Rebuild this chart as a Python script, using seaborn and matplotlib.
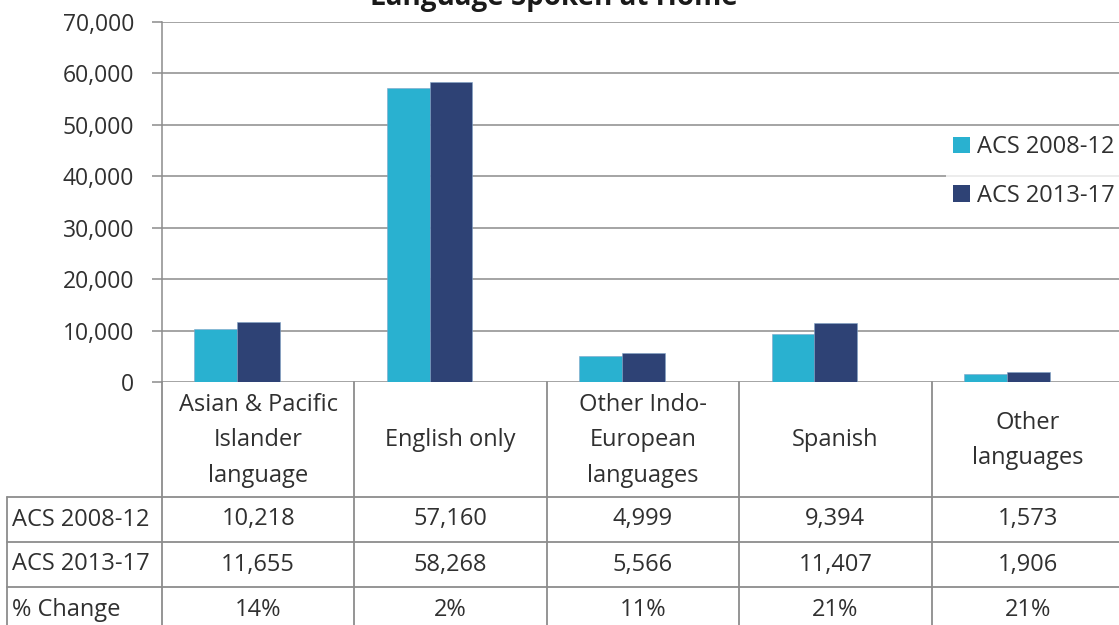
import matplotlib
matplotlib.use("Agg")
import matplotlib.pyplot as plt
import seaborn as sns
import pandas as pd
from matplotlib.patches import Patch

categories = [
    "Asian & Pacific\nIslander\nlanguage",
    "English only",
    "Other Indo-\nEuropean\nlanguages",
    "Spanish",
    "Other\nlanguages",
]
series_names = ["ACS 2008-12", "ACS 2013-17"]
acs_2008_12 = [10218, 57160, 4999, 9394, 1573]
acs_2013_17 = [11655, 58268, 5566, 11407, 1906]
pct_change = [14, 2, 11, 21, 21]
y_ticks = [0, 10000, 20000, 30000, 40000, 50000, 60000, 70000]

colors = ["#29B1D0", "#2E4275"]
grid_c = "#8C8C8C"
text_c = "#303030"

sns.set_theme(style="white")
plt.rcParams["font.family"] = ["Open Sans", "DejaVu Sans"]

W, H = 1119, 625
fig = plt.figure(figsize=(W / 100, H / 100), dpi=100)

# pixel geometry of the plot area
x_left, x_right = 162, 1124
y_top, y_zero = 22, 382
cat_w = (x_right - x_left) / 5
bar_shift = 21 / cat_w  # bar groups sit slightly left of the table columns

ax = fig.add_axes([x_left / W, 1 - y_zero / H, (x_right - x_left) / W, (y_zero - y_top) / H])

df = pd.DataFrame({
    "category": categories * 2,
    "series": [series_names[0]] * 5 + [series_names[1]] * 5,
    "value": acs_2008_12 + acs_2013_17,
})
sns.barplot(data=df, x="category", y="value", hue="series", palette=colors,
            width=0.445, saturation=1, ax=ax, legend=False,
            edgecolor="#7fa3c7", linewidth=0.4)

ax.set_xlim(-0.5 + bar_shift, 4.5 + bar_shift)
ax.set_ylim(0, 70000)
ax.set_yticks(y_ticks)
ax.set_yticklabels([f"{v:,}" for v in y_ticks], fontsize=16.5, color=text_c)
ax.set_xticks([])
ax.set_xlabel("")
ax.set_ylabel("")
for v in y_ticks:
    ax.axhline(v, color=grid_c, lw=1.1, zorder=0)
for s in ["top", "right", "bottom"]:
    ax.spines[s].set_visible(False)
ax.spines["left"].set_color(grid_c)
ax.spines["left"].set_linewidth(1.1)
ax.tick_params(axis="y", left=True, length=7, width=1.1, color=grid_c, pad=13)

# title, partly above the top edge
fig.text(554 / W, 1 - 5 / H, "Language Spoken at Home", ha="center", va="baseline",
         fontsize=20, fontweight="bold", color="#1a1a1a")

# legend
handles = [Patch(facecolor=c, edgecolor="none") for c in colors]
leg = fig.legend(handles, series_names, loc="upper left",
                 bbox_to_anchor=(946 / W, 1 - 128 / H), frameon=True,
                 fontsize=17, handlelength=0.7, handleheight=0.7,
                 handletextpad=0.3, labelspacing=1.05, borderpad=0.3,
                 borderaxespad=0)
leg.get_frame().set_facecolor("white")
leg.get_frame().set_edgecolor("none")
for t in leg.get_texts():
    t.set_color(text_c)

# data table beneath the axis
tab_left = 7
x0 = -0.5 - (x_left - tab_left) / cat_w
tab = fig.add_axes([tab_left / W, 0, (x_right - tab_left) / W, (H - y_zero) / H])
tab.set_xlim(x0, 4.5)
tab.set_ylim(0, H - y_zero)
tab.axis("off")

def py(p):
    return H - p

row_lines = [497, 542, 587]
row_bottom = 632
lw = 1.3
for r in row_lines:
    tab.plot([x0, 4.5], [py(r), py(r)], color=grid_c, lw=lw, clip_on=False)
tab.plot([x0, x0], [py(row_lines[0]), py(row_bottom)], color=grid_c, lw=lw, clip_on=False)
for b in [-0.5, 0.5, 1.5, 2.5, 3.5]:
    tab.plot([b, b], [py(y_zero), py(row_bottom)], color=grid_c, lw=lw, clip_on=False)

fs = 17
header_mid = (y_zero + row_lines[0]) / 2 + 1
for i, c in enumerate(categories):
    tab.text(i, py(header_mid), c, ha="center", va="center", fontsize=fs,
             color=text_c, linespacing=1.62)

row_labels = series_names + ["% Change"]
row_vals = [
    [f"{v:,}" for v in acs_2008_12],
    [f"{v:,}" for v in acs_2013_17],
    [f"{v}%" for v in pct_change],
]
for r, (lab, vals) in enumerate(zip(row_labels, row_vals)):
    mid = row_lines[r] + 22.5
    tab.text(x0 + 5 / cat_w, py(mid), lab, ha="left", va="center", fontsize=fs, color=text_c)
    for i, v in enumerate(vals):
        tab.text(i, py(mid), v, ha="center", va="center", fontsize=fs, color=text_c)

fig.savefig("out.png", dpi=100)
